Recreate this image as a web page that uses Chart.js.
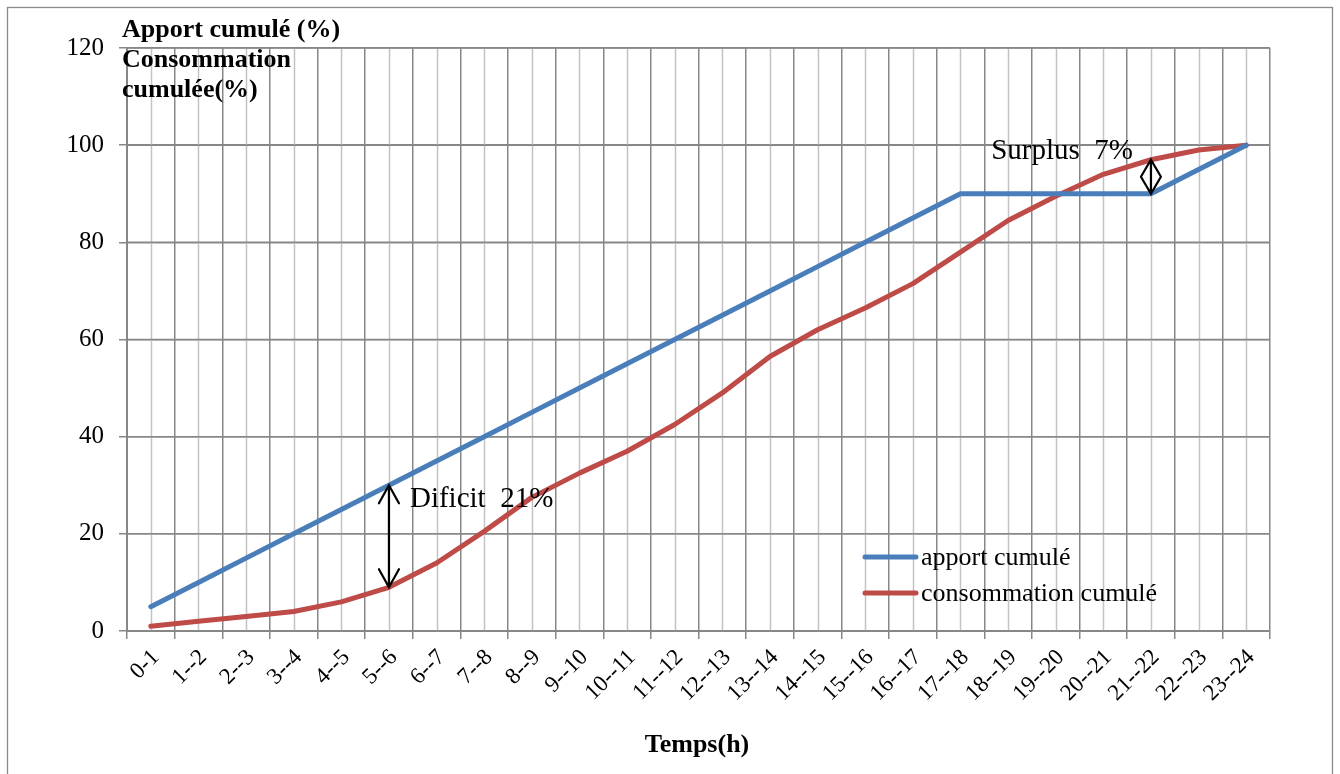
<!DOCTYPE html>
<html>
<head>
<meta charset="utf-8">
<script src="https://cdn.jsdelivr.net/npm/chart.js@4.4.1/dist/chart.umd.min.js"></script>
<style>
  html, body { margin: 0; padding: 0; background: #fff; overflow: hidden; }
  #c { position: absolute; left: 0; top: 0; }
</style>
</head>
<body>
<canvas id="c" width="1340" height="774"></canvas>
<script>
// Hourly periods of the day
const periods = ['0-1', '1--2', '2--3', '3--4', '4--5', '5--6', '6--7', '7--8', '8--9', '9--10',
  '10--11', '11--12', '12--13', '13--14', '14--15', '15--16', '16--17', '17--18', '18--19',
  '19--20', '20--21', '21--22', '22--23', '23--24'];

// Cumulative inflow (%)
const apportCumule = [5, 10, 15, 20, 25, 30, 35, 40, 45, 50, 55, 60, 65, 70, 75, 80, 85, 90,
  90, 90, 90, 90, 95, 100];

// Cumulative consumption (%)
const consoCumule = [1, 2, 3, 4, 6, 9, 14, 20.5, 27.5, 32.5, 37, 42.5, 49, 56.5, 62, 66.5, 71.5,
  78, 84.5, 89.5, 94, 97, 99, 100];

const yTicks = [0, 20, 40, 60, 80, 100, 120];

const seriesNames = ['apport cumulé', 'consommation cumulé'];
const yTitleLines = ['Apport cumulé (%)', 'Consommation', 'cumulée(%)'];
const xTitle = 'Temps(h)';

// Periods where the gap between both curves is annotated
const deficitIndex = 5;
const surplusIndex = 21;

const SERIF = "'Liberation Serif', 'Times New Roman', serif";
const BLUE = '#4A7EBB';
const RED = '#BE4B48';
const GRID = '#878787';

function doubleArrow(ctx, x, y1, y2, headLen, headHalf) {
  ctx.save();
  ctx.strokeStyle = '#000';
  ctx.lineWidth = 2.2;
  ctx.lineJoin = 'miter';
  ctx.beginPath();
  ctx.moveTo(x, y1);
  ctx.lineTo(x, y2);
  const dir = y2 > y1 ? 1 : -1;
  // head at y1
  ctx.moveTo(x - headHalf, y1 + dir * headLen);
  ctx.lineTo(x, y1);
  ctx.lineTo(x + headHalf, y1 + dir * headLen);
  // head at y2
  ctx.moveTo(x - headHalf, y2 - dir * headLen);
  ctx.lineTo(x, y2);
  ctx.lineTo(x + headHalf, y2 - dir * headLen);
  ctx.stroke();
  ctx.restore();
}

const decorations = {
  id: 'decorations',
  beforeDatasetsDraw(chart) {
    // light gridlines through each category centre
    const { ctx, chartArea, scales } = chart;
    ctx.save();
    ctx.strokeStyle = '#C3C3C3';
    ctx.lineWidth = 1.5;
    periods.forEach((p, i) => {
      const x = Math.round(scales.x.getPixelForValue(i)) + 0.5;
      ctx.beginPath();
      ctx.moveTo(x, chartArea.top);
      ctx.lineTo(x, chartArea.bottom);
      ctx.stroke();
    });
    // redraw horizontal gridlines on top of them
    ctx.strokeStyle = GRID;
    yTicks.forEach(v => {
      const y = scales.y.getPixelForValue(v);
      ctx.beginPath();
      ctx.moveTo(chartArea.left, y);
      ctx.lineTo(chartArea.right, y);
      ctx.stroke();
    });
    ctx.restore();
  },
  afterDraw(chart) {
    const { ctx, scales } = chart;
    const xs = scales.x, ys = scales.y;
    ctx.save();

    // outer frame
    ctx.strokeStyle = '#8a8a8a';
    ctx.lineWidth = 1.3;
    ctx.strokeRect(7.5, 7.5, 1325, 790);

    // axis titles
    ctx.fillStyle = '#000';
    ctx.textAlign = 'left';
    ctx.textBaseline = 'alphabetic';
    ctx.font = 'bold 26px ' + SERIF;
    const titleBase = [37, 67, 97];
    yTitleLines.forEach((t, i) => ctx.fillText(t, 122, titleBase[i]));
    ctx.textAlign = 'center';
    ctx.fillText(xTitle, 697, 752);

    // legend
    const legendY = [557, 593];
    chart.data.datasets.forEach((ds, i) => {
      ctx.strokeStyle = ds.borderColor;
      ctx.lineWidth = 5;
      ctx.lineCap = 'round';
      ctx.beginPath();
      ctx.moveTo(865, legendY[i]);
      ctx.lineTo(916, legendY[i]);
      ctx.stroke();
      ctx.fillStyle = '#000';
      ctx.font = '26px ' + SERIF;
      ctx.textAlign = 'left';
      ctx.textBaseline = 'middle';
      ctx.fillText(ds.label, 921, legendY[i] + 1);
    });

    // deficit annotation
    const xd = xs.getPixelForValue(deficitIndex);
    const yTopD = ys.getPixelForValue(apportCumule[deficitIndex]);
    const yBotD = ys.getPixelForValue(consoCumule[deficitIndex]);
    doubleArrow(ctx, xd, yTopD, yBotD, 18, 10);
    const deficit = apportCumule[deficitIndex] - consoCumule[deficitIndex];
    ctx.font = '29px ' + SERIF;
    ctx.textAlign = 'left';
    ctx.textBaseline = 'alphabetic';
    ctx.fillStyle = '#000';
    ctx.fillText('Dificit  ' + deficit + '%', xd + 21, yTopD + 22);

    // surplus annotation
    const xs2 = xs.getPixelForValue(surplusIndex);
    const yTopS = ys.getPixelForValue(consoCumule[surplusIndex]);
    const yBotS = ys.getPixelForValue(apportCumule[surplusIndex]);
    doubleArrow(ctx, xs2, yTopS, yBotS, 17, 10);
    const surplus = consoCumule[surplusIndex] - apportCumule[surplusIndex];
    ctx.textAlign = 'right';
    ctx.fillText('Surplus  ' + surplus + '%', xs2 - 18, 159);

    ctx.restore();
  }
};

new Chart(document.getElementById('c'), {
  type: 'line',
  data: {
    labels: periods,
    datasets: [
      { label: seriesNames[0], data: apportCumule, borderColor: BLUE, borderWidth: 5,
        pointRadius: 0, tension: 0, fill: false, borderCapStyle: 'round', borderJoinStyle: 'round' },
      { label: seriesNames[1], data: consoCumule, borderColor: RED, borderWidth: 5,
        pointRadius: 0, tension: 0, fill: false, borderCapStyle: 'round', borderJoinStyle: 'round' }
    ]
  },
  options: {
    responsive: false,
    animation: false,
    devicePixelRatio: 1,
    layout: { padding: { left: 0, top: 48, right: 70, bottom: 0 } },
    plugins: { legend: { display: false }, tooltip: { enabled: false } },
    scales: {
      x: {
        type: 'category',
        offset: true,
        grid: { offset: true, color: GRID, lineWidth: 1.5, tickLength: 8, drawTicks: true },
        border: { color: GRID, width: 2 },
        ticks: {
          autoSkip: false, minRotation: 45, maxRotation: 45, padding: 5, labelOffset: 5,
          color: '#000', font: { family: SERIF, size: 23 }
        },
        afterFit(scale) { scale.height = 143; }
      },
      y: {
        min: 0, max: 120,
        afterBuildTicks(scale) { scale.ticks = yTicks.map(v => ({ value: v })); },
        grid: { color: GRID, lineWidth: 1.5, tickLength: 8 },
        border: { color: GRID, width: 2 },
        ticks: { color: '#000', padding: 15, font: { family: SERIF, size: 25 } },
        afterFit(scale) { scale.width = 127; }
      }
    }
  },
  plugins: [decorations]
});
</script>
</body>
</html>
